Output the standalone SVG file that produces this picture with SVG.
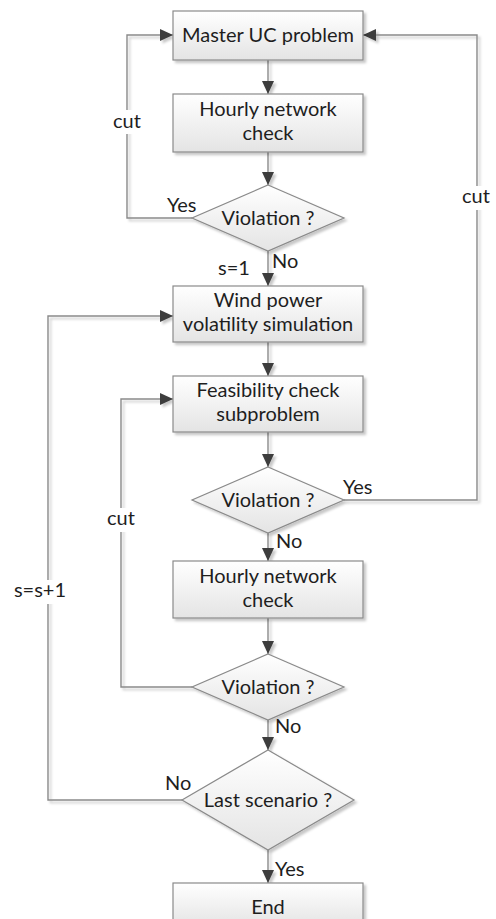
<svg xmlns="http://www.w3.org/2000/svg" width="496" height="919" viewBox="0 0 496 919">
  <defs>
    <linearGradient id="boxFill" x1="0" y1="0" x2="0" y2="1">
      <stop offset="0" stop-color="#ffffff"/>
      <stop offset="1" stop-color="#e4e4e4"/>
    </linearGradient>
    <filter id="shadow" x="-10%" y="-10%" width="130%" height="140%">
      <feDropShadow dx="2.5" dy="2.5" stdDeviation="0.8" flood-color="#000" flood-opacity="0.22"/>
    </filter>
    <marker id="arrow" markerUnits="userSpaceOnUse" markerWidth="14" markerHeight="12" refX="13" refY="6" orient="auto">
      <path d="M0,0 L13,6 L0,12 z" fill="#3c3c3c"/>
    </marker>
  </defs>
  <style>
    .shape { fill: url(#boxFill); stroke: #8a8a8a; stroke-width: 1.2; filter: url(#shadow); }
    .t { font-family: Lato, "Liberation Sans", sans-serif; font-size: 20px; fill: #1e1e1e; text-anchor: middle; }
    .lbl { font-family: Lato, "Liberation Sans", sans-serif; font-size: 20px; fill: #1e1e1e; }
    .conn { fill: none; stroke: #8a8a8a; stroke-width: 1.4; }
    .arr { marker-end: url(#arrow); }
    .gap { fill: #ffffff; }
  </style>

  <rect width="496" height="919" fill="#ffffff"/>

  <!-- connectors -->
  <g id="connectors" filter="url(#shadow)">
    <path class="conn arr" d="M268,60 V94"/>
    <path class="conn arr" d="M268,152 V185"/>
    <path class="conn arr" d="M268,251 V286"/>
    <path class="conn arr" d="M192,218 H127 V35 H173"/>
    <path class="conn arr" d="M268,342 V376"/>
    <path class="conn arr" d="M268,432 V467"/>
    <path class="conn arr" d="M344,500 H477 V35 H363"/>
    <path class="conn arr" d="M268,533 V561"/>
    <path class="conn arr" d="M268,618 V654"/>
    <path class="conn arr" d="M192,687 H121 V399 H173"/>
    <path class="conn arr" d="M268,720 V750"/>
    <path class="conn arr" d="M182,800 H48 V316 H173"/>
    <path class="conn arr" d="M268,850 V883"/>
  </g>

  <!-- connector labels -->
  <g id="labels">
    <rect class="gap" x="112" y="110" width="30" height="24"/>
    <text class="t" x="127" y="128">cut</text>
    <rect class="gap" x="461" y="186" width="32" height="24"/>
    <text class="t" x="476" y="203">cut</text>
    <rect class="gap" x="106" y="508" width="30" height="24"/>
    <text class="t" x="121" y="525">cut</text>
    <rect class="gap" x="14" y="580" width="52" height="24"/>
    <text class="t" x="40" y="597">s=s+1</text>
    <text class="lbl" x="167" y="212">Yes</text>
    <text class="lbl" x="272" y="268">No</text>
    <text class="lbl" x="218" y="275">s=1</text>
    <text class="lbl" x="343" y="494">Yes</text>
    <text class="lbl" x="276" y="548">No</text>
    <text class="lbl" x="275" y="733">No</text>
    <text class="lbl" x="165" y="790">No</text>
    <text class="lbl" x="275" y="876">Yes</text>
  </g>

  <!-- nodes -->
  <g id="master">
    <rect class="shape" x="173" y="11" width="190" height="49"/>
    <text class="t" x="268" y="42">Master UC problem</text>
  </g>
  <g id="network-check-1">
    <rect class="shape" x="173" y="94" width="190" height="58"/>
    <text class="t" x="268" y="116">Hourly network</text>
    <text class="t" x="268" y="140">check</text>
  </g>
  <g id="violation-1">
    <polygon class="shape" points="268,185 344,218 268,251 192,218"/>
    <text class="t" x="268" y="225">Violation ?</text>
  </g>
  <g id="wind-simulation">
    <rect class="shape" x="173" y="286" width="190" height="56"/>
    <text class="t" x="268" y="307">Wind power</text>
    <text class="t" x="268" y="331">volatility simulation</text>
  </g>
  <g id="feasibility">
    <rect class="shape" x="173" y="376" width="190" height="56"/>
    <text class="t" x="268" y="397">Feasibility check</text>
    <text class="t" x="268" y="421">subproblem</text>
  </g>
  <g id="violation-2">
    <polygon class="shape" points="268,467 344,500 268,533 192,500"/>
    <text class="t" x="268" y="507">Violation ?</text>
  </g>
  <g id="network-check-2">
    <rect class="shape" x="173" y="561" width="190" height="57"/>
    <text class="t" x="268" y="583">Hourly network</text>
    <text class="t" x="268" y="607">check</text>
  </g>
  <g id="violation-3">
    <polygon class="shape" points="268,654 344,687 268,720 192,687"/>
    <text class="t" x="268" y="694">Violation ?</text>
  </g>
  <g id="last-scenario">
    <polygon class="shape" points="268,750 354,800 268,850 182,800"/>
    <text class="t" x="268" y="807">Last scenario ?</text>
  </g>
  <g id="end">
    <rect class="shape" x="173" y="883" width="190" height="44"/>
    <text class="t" x="268" y="914">End</text>
  </g>
</svg>
